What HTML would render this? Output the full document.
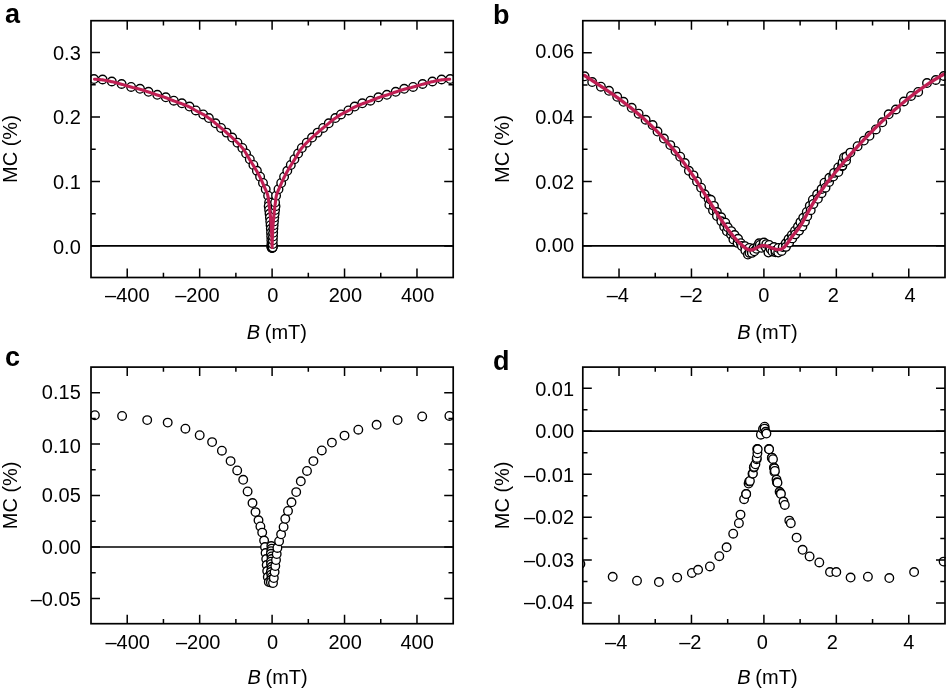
<!DOCTYPE html>
<html><head><meta charset="utf-8"><style>
html,body{margin:0;padding:0;background:#fff;}
svg{display:block;will-change:transform;}
text{font-family:"Liberation Sans",sans-serif;font-size:20px;fill:#000;}
.lab{font-weight:bold;font-size:27px;}
</style></head><body>
<svg width="946" height="689" viewBox="0 0 946 689">
<rect width="946" height="689" fill="#fff"/>
<text class="lab" x="5" y="23.4">a</text>
<text class="lab" x="493" y="23.9">b</text>
<text class="lab" x="5" y="365.5">c</text>
<text class="lab" x="493" y="370.2">d</text>
<defs><clipPath id="cpa"><rect x="90.2" y="19.9" width="363.8" height="258.4"/></clipPath><clipPath id="cpb"><rect x="582" y="19.9" width="363.8" height="258.4"/></clipPath><clipPath id="cpc"><rect x="90.2" y="366.3" width="363.8" height="258.2"/></clipPath><clipPath id="cpd"><rect x="582" y="366.3" width="363.8" height="258.2"/></clipPath></defs>
<path d="M91 245.9H453.2" stroke="#000" stroke-width="1.7"/>
<path d="M582.8 245.8H945" stroke="#000" stroke-width="1.7"/>
<path d="M91 547H453.2" stroke="#000" stroke-width="1.7"/>
<path d="M582.8 431.2H945" stroke="#000" stroke-width="1.7"/>
<g clip-path="url(#cpa)" fill="#fff" stroke="#000" stroke-width="1.35"><circle cx="94" cy="79.1" r="4.3"/><circle cx="102.6" cy="79.5" r="4.3"/><circle cx="111.8" cy="81.5" r="4.3"/><circle cx="121.6" cy="84" r="4.3"/><circle cx="131.1" cy="86.9" r="4.3"/><circle cx="140" cy="88.8" r="4.3"/><circle cx="148.5" cy="91.8" r="4.3"/><circle cx="157.3" cy="94.8" r="4.3"/><circle cx="165.8" cy="97.3" r="4.3"/><circle cx="173.8" cy="100.7" r="4.3"/><circle cx="181.9" cy="103.3" r="4.3"/><circle cx="189.5" cy="106.6" r="4.3"/><circle cx="195.8" cy="110.4" r="4.3"/><circle cx="203.2" cy="114.43" r="4.3"/><circle cx="208.86" cy="118.07" r="4.3"/><circle cx="215.43" cy="123.26" r="4.3"/><circle cx="221.04" cy="127.9" r="4.3"/><circle cx="226.58" cy="132.62" r="4.3"/><circle cx="232.15" cy="137.59" r="4.3"/><circle cx="237.47" cy="142.71" r="4.3"/><circle cx="242.36" cy="147.98" r="4.3"/><circle cx="246.07" cy="153.43" r="4.3"/><circle cx="249.78" cy="159.19" r="4.3"/><circle cx="253.4" cy="164.97" r="4.3"/><circle cx="256.9" cy="170.84" r="4.3"/><circle cx="260.1" cy="176.73" r="4.3"/><circle cx="262.99" cy="182.94" r="4.3"/><circle cx="265.7" cy="189.21" r="4.3"/><circle cx="268.13" cy="195.65" r="4.3"/><circle cx="269.11" cy="202.43" r="4.3"/><circle cx="268.68" cy="206.2" r="4.3"/><circle cx="269.12" cy="209.99" r="4.3"/><circle cx="269.54" cy="213.78" r="4.3"/><circle cx="269.92" cy="217.58" r="4.3"/><circle cx="270.26" cy="221.38" r="4.3"/><circle cx="270.57" cy="225.18" r="4.3"/><circle cx="270.83" cy="228.85" r="4.3"/><circle cx="271.03" cy="232.66" r="4.3"/><circle cx="271.19" cy="236.47" r="4.3"/><circle cx="271.34" cy="240.29" r="4.3"/><circle cx="271.44" cy="244.1" r="4.3"/><circle cx="271.5" cy="247.37" r="4.3"/><circle cx="271.3" cy="246.6" r="4.3"/><circle cx="271.8" cy="247.3" r="4.3"/><circle cx="272.1" cy="248" r="4.3"/><circle cx="272.1" cy="248" r="4.3"/><circle cx="272.4" cy="247.3" r="4.3"/><circle cx="272.9" cy="246.6" r="4.3"/><circle cx="272.7" cy="247.37" r="4.3"/><circle cx="272.76" cy="244.1" r="4.3"/><circle cx="272.86" cy="240.29" r="4.3"/><circle cx="273.01" cy="236.47" r="4.3"/><circle cx="273.17" cy="232.66" r="4.3"/><circle cx="273.37" cy="228.85" r="4.3"/><circle cx="273.63" cy="225.18" r="4.3"/><circle cx="273.94" cy="221.38" r="4.3"/><circle cx="274.28" cy="217.58" r="4.3"/><circle cx="274.66" cy="213.78" r="4.3"/><circle cx="275.08" cy="209.99" r="4.3"/><circle cx="275.52" cy="206.2" r="4.3"/><circle cx="275.09" cy="202.43" r="4.3"/><circle cx="276.07" cy="195.65" r="4.3"/><circle cx="278.5" cy="189.21" r="4.3"/><circle cx="281.21" cy="182.94" r="4.3"/><circle cx="284.1" cy="176.73" r="4.3"/><circle cx="287.3" cy="170.84" r="4.3"/><circle cx="290.8" cy="164.97" r="4.3"/><circle cx="294.42" cy="159.19" r="4.3"/><circle cx="298.13" cy="153.43" r="4.3"/><circle cx="301.84" cy="147.98" r="4.3"/><circle cx="306.73" cy="142.71" r="4.3"/><circle cx="312.05" cy="137.59" r="4.3"/><circle cx="317.62" cy="132.62" r="4.3"/><circle cx="323.16" cy="127.9" r="4.3"/><circle cx="328.77" cy="123.26" r="4.3"/><circle cx="335.34" cy="118.07" r="4.3"/><circle cx="341" cy="114.43" r="4.3"/><circle cx="348.4" cy="110.4" r="4.3"/><circle cx="354.7" cy="106.6" r="4.3"/><circle cx="362.3" cy="103.3" r="4.3"/><circle cx="370.4" cy="100.7" r="4.3"/><circle cx="378.4" cy="97.3" r="4.3"/><circle cx="386.9" cy="94.8" r="4.3"/><circle cx="395.7" cy="91.8" r="4.3"/><circle cx="404.2" cy="88.8" r="4.3"/><circle cx="413.1" cy="86.9" r="4.3"/><circle cx="422.6" cy="84" r="4.3"/><circle cx="432.4" cy="81.5" r="4.3"/><circle cx="441.6" cy="79.5" r="4.3"/><circle cx="450.2" cy="79.1" r="4.3"/></g>
<path d="M94.5 79.2L95.41 79.24L96.33 79.29L97.24 79.36L98.15 79.43L99.06 79.51L99.97 79.6L100.87 79.7L101.78 79.8L102.68 79.91L103.58 80.03L104.48 80.17L105.38 80.33L106.28 80.5L107.18 80.68L108.07 80.87L108.96 81.06L109.86 81.26L110.75 81.46L111.64 81.66L112.53 81.86L113.42 82.07L114.3 82.28L115.19 82.5L116.07 82.72L116.96 82.95L117.84 83.18L118.72 83.42L119.61 83.66L120.49 83.9L121.37 84.14L122.25 84.38L123.12 84.63L124 84.89L124.87 85.15L125.75 85.42L126.62 85.69L127.49 85.95L128.37 86.22L129.24 86.48L130.12 86.73L131 86.97L131.88 87.2L132.76 87.43L133.65 87.64L134.54 87.85L135.43 88.06L136.32 88.26L137.21 88.48L138.09 88.69L138.98 88.92L139.86 89.16L140.73 89.41L141.6 89.68L142.47 89.95L143.34 90.24L144.2 90.53L145.07 90.82L145.93 91.12L146.8 91.42L147.66 91.72L148.53 92.01L149.39 92.3L150.25 92.59L151.12 92.89L151.98 93.19L152.84 93.49L153.7 93.78L154.57 94.08L155.43 94.38L156.3 94.67L157.16 94.95L158.03 95.24L158.9 95.51L159.77 95.78L160.65 96.05L161.52 96.31L162.39 96.58L163.26 96.85L164.13 97.13L165 97.42L165.86 97.72L166.71 98.03L167.56 98.36L168.41 98.7L169.26 99.05L170.1 99.4L170.94 99.75L171.79 100.1L172.63 100.44L173.48 100.78L174.33 101.1L175.19 101.41L176.05 101.72L176.91 102.02L177.78 102.32L178.64 102.61L179.5 102.92L180.36 103.22L181.22 103.54L182.07 103.87L182.92 104.2L183.77 104.53L184.62 104.87L185.47 105.21L186.31 105.56L187.15 105.92L187.99 106.29L188.81 106.67L189.63 107.06L190.44 107.48L191.24 107.92L192.03 108.38L192.81 108.85L193.59 109.32L194.38 109.79L195.17 110.25L195.97 110.69L196.77 111.12L197.59 111.54L198.4 111.95L199.22 112.35L200.04 112.76L200.86 113.17L201.67 113.59L202.47 114.02L203.27 114.46L204.05 114.92L204.83 115.4L205.6 115.88L206.37 116.38L207.14 116.88L207.89 117.4L208.64 117.92L209.38 118.44L210.12 118.98L210.85 119.53L211.57 120.09L212.28 120.65L212.99 121.23L213.7 121.81L214.4 122.39L215.1 122.98L215.8 123.57L216.5 124.15L217.2 124.74L217.91 125.32L218.61 125.9L219.32 126.48L220.02 127.06L220.72 127.64L221.43 128.23L222.13 128.81L222.83 129.4L223.52 129.99L224.22 130.58L224.91 131.17L225.6 131.77L226.29 132.37L226.98 132.97L227.66 133.57L228.35 134.17L229.04 134.77L229.72 135.38L230.4 135.99L231.08 136.6L231.75 137.22L232.42 137.84L233.09 138.46L233.75 139.09L234.41 139.72L235.06 140.35L235.71 140.99L236.37 141.63L237.02 142.27L237.68 142.92L238.33 143.57L238.98 144.22L239.61 144.88L240.24 145.55L240.86 146.22L241.46 146.91L242.04 147.6L242.61 148.3L243.16 149.01L243.69 149.74L244.21 150.48L244.71 151.24L245.2 152L245.68 152.78L246.15 153.56L246.62 154.35L247.08 155.15L247.54 155.94L248 156.74L248.45 157.53L248.92 158.33L249.38 159.12L249.85 159.9L250.33 160.68L250.82 161.45L251.31 162.22L251.8 162.99L252.28 163.77L252.77 164.54L253.26 165.31L253.74 166.08L254.22 166.86L254.69 167.64L255.16 168.43L255.62 169.21L256.07 170L256.53 170.79L256.98 171.59L257.43 172.38L257.88 173.18L258.32 173.98L258.75 174.79L259.18 175.59L259.6 176.4L260.01 177.21L260.41 178.03L260.81 178.85L261.19 179.68L261.58 180.51L261.95 181.34L262.32 182.17L262.69 183.01L263.05 183.85L263.41 184.69L263.77 185.53L264.12 186.37L264.47 187.21L264.84 188.05L265.22 188.89L265.61 189.73L265.99 190.57L266.36 191.42L266.72 192.26L267.05 193.12L267.35 193.97L267.62 194.84L267.84 195.71L268.01 196.58L268.17 197.47L268.3 198.37L268.43 199.28L268.54 200.19L268.65 201.1L268.76 202.01L268.87 202.92L268.98 203.83L269.1 204.74L269.21 205.64L269.33 206.55L269.44 207.45L269.54 208.36L269.65 209.27L269.75 210.17L269.85 211.08L269.95 211.99L270.05 212.9L270.15 213.8L270.24 214.71L270.34 215.62L270.43 216.53L270.51 217.43L270.6 218.34L270.68 219.25L270.76 220.16L270.83 221.07L270.91 221.98L270.99 222.89L271.06 223.8L271.13 224.71L271.2 225.62L271.27 226.53L271.34 227.44L271.4 228.35L271.45 229.26L271.51 230.17L271.56 231.08L271.6 231.99L271.64 232.91L271.68 233.82L271.72 234.73L271.76 235.64L271.8 236.55L271.83 237.46L271.87 238.38L271.9 239.29L271.93 240.2L271.96 241.11L271.99 242.02L272.01 242.94L272.04 243.85L272.06 244.76L272.07 245.67L272.09 246.59L272.1 247.5L272.1 247.5L272.11 246.59L272.13 245.67L272.14 244.76L272.16 243.85L272.19 242.94L272.21 242.02L272.24 241.11L272.27 240.2L272.3 239.29L272.33 238.38L272.37 237.46L272.4 236.55L272.44 235.64L272.48 234.73L272.52 233.82L272.56 232.91L272.6 231.99L272.64 231.08L272.69 230.17L272.75 229.26L272.8 228.35L272.86 227.44L272.93 226.53L273 225.62L273.07 224.71L273.14 223.8L273.21 222.89L273.29 221.98L273.37 221.07L273.44 220.16L273.52 219.25L273.6 218.34L273.69 217.43L273.77 216.53L273.86 215.62L273.96 214.71L274.05 213.8L274.15 212.9L274.25 211.99L274.35 211.08L274.45 210.17L274.55 209.27L274.66 208.36L274.76 207.45L274.87 206.55L274.99 205.64L275.1 204.74L275.22 203.83L275.33 202.92L275.44 202.01L275.55 201.1L275.66 200.19L275.77 199.28L275.9 198.37L276.03 197.47L276.19 196.58L276.36 195.71L276.58 194.84L276.85 193.97L277.15 193.12L277.48 192.26L277.84 191.42L278.21 190.57L278.59 189.73L278.98 188.89L279.36 188.05L279.73 187.21L280.08 186.37L280.43 185.53L280.79 184.69L281.15 183.85L281.51 183.01L281.88 182.17L282.25 181.34L282.62 180.51L283.01 179.68L283.39 178.85L283.79 178.03L284.19 177.21L284.6 176.4L285.02 175.59L285.45 174.79L285.88 173.98L286.32 173.18L286.77 172.38L287.22 171.59L287.67 170.79L288.13 170L288.58 169.21L289.04 168.43L289.51 167.64L289.98 166.86L290.46 166.08L290.94 165.31L291.43 164.54L291.92 163.77L292.4 162.99L292.89 162.22L293.38 161.45L293.87 160.68L294.35 159.9L294.82 159.12L295.28 158.33L295.75 157.53L296.2 156.74L296.66 155.94L297.12 155.15L297.58 154.35L298.05 153.56L298.52 152.78L299 152L299.49 151.24L299.99 150.48L300.51 149.74L301.04 149.01L301.59 148.3L302.16 147.6L302.74 146.91L303.34 146.22L303.96 145.55L304.59 144.88L305.22 144.22L305.87 143.57L306.52 142.92L307.18 142.27L307.83 141.63L308.49 140.99L309.14 140.35L309.79 139.72L310.45 139.09L311.11 138.46L311.78 137.84L312.45 137.22L313.12 136.6L313.8 135.99L314.48 135.38L315.16 134.77L315.85 134.17L316.54 133.57L317.22 132.97L317.91 132.37L318.6 131.77L319.29 131.17L319.98 130.58L320.68 129.99L321.37 129.4L322.07 128.81L322.77 128.23L323.48 127.64L324.18 127.06L324.88 126.48L325.59 125.9L326.29 125.32L327 124.74L327.7 124.15L328.4 123.57L329.1 122.98L329.8 122.39L330.5 121.81L331.21 121.23L331.92 120.65L332.63 120.09L333.35 119.53L334.08 118.98L334.82 118.44L335.56 117.92L336.31 117.4L337.06 116.88L337.83 116.38L338.6 115.88L339.37 115.4L340.15 114.92L340.93 114.46L341.73 114.02L342.53 113.59L343.34 113.17L344.16 112.76L344.98 112.35L345.8 111.95L346.61 111.54L347.43 111.12L348.23 110.69L349.03 110.25L349.82 109.79L350.61 109.32L351.39 108.85L352.17 108.38L352.96 107.92L353.76 107.48L354.57 107.06L355.39 106.67L356.21 106.29L357.05 105.92L357.89 105.56L358.73 105.21L359.58 104.87L360.43 104.53L361.28 104.2L362.13 103.87L362.98 103.54L363.84 103.22L364.7 102.92L365.56 102.61L366.42 102.32L367.29 102.02L368.15 101.72L369.01 101.41L369.87 101.1L370.72 100.78L371.57 100.44L372.41 100.1L373.26 99.75L374.1 99.4L374.94 99.05L375.79 98.7L376.64 98.36L377.49 98.03L378.34 97.72L379.2 97.42L380.07 97.13L380.94 96.85L381.81 96.58L382.68 96.31L383.55 96.05L384.43 95.78L385.3 95.51L386.17 95.24L387.04 94.95L387.9 94.67L388.77 94.38L389.63 94.08L390.5 93.78L391.36 93.49L392.22 93.19L393.08 92.89L393.95 92.59L394.81 92.3L395.67 92.01L396.54 91.72L397.4 91.42L398.27 91.12L399.13 90.82L400 90.53L400.86 90.24L401.73 89.95L402.6 89.68L403.47 89.41L404.34 89.16L405.22 88.92L406.11 88.69L406.99 88.48L407.88 88.26L408.77 88.06L409.66 87.85L410.55 87.64L411.44 87.43L412.32 87.2L413.2 86.97L414.08 86.73L414.96 86.48L415.83 86.22L416.71 85.95L417.58 85.69L418.45 85.42L419.33 85.15L420.2 84.89L421.08 84.63L421.95 84.38L422.83 84.14L423.71 83.9L424.59 83.66L425.48 83.42L426.36 83.18L427.24 82.95L428.13 82.72L429.01 82.5L429.9 82.28L430.78 82.07L431.67 81.86L432.56 81.66L433.45 81.46L434.34 81.26L435.24 81.06L436.13 80.87L437.02 80.68L437.92 80.5L438.82 80.33L439.72 80.17L440.62 80.03L441.52 79.91L442.42 79.8L443.33 79.7L444.23 79.6L445.14 79.51L446.05 79.43L446.96 79.36L447.87 79.29L448.79 79.24L449.7 79.2" fill="none" stroke="#bf1f53" stroke-width="3.1" stroke-linejoin="round" stroke-linecap="round"/>
<g clip-path="url(#cpb)" fill="#fff" stroke="#000" stroke-width="1.35"><circle cx="584.6" cy="76.3" r="4.3"/><circle cx="592.2" cy="82.1" r="4.3"/><circle cx="600.9" cy="86.7" r="4.3"/><circle cx="609" cy="90.8" r="4.3"/><circle cx="617.2" cy="96.77" r="4.3"/><circle cx="623.5" cy="101.82" r="4.3"/><circle cx="631.7" cy="107.78" r="4.3"/><circle cx="638.6" cy="113.72" r="4.3"/><circle cx="645.6" cy="119.75" r="4.3"/><circle cx="652.6" cy="125.01" r="4.3"/><circle cx="657.5" cy="131.54" r="4.3"/><circle cx="663.9" cy="138.59" r="4.3"/><circle cx="670.3" cy="145.1" r="4.3"/><circle cx="675.5" cy="150.97" r="4.3"/><circle cx="680.2" cy="156.68" r="4.3"/><circle cx="684.8" cy="163.06" r="4.3"/><circle cx="688.9" cy="170.81" r="4.3"/><circle cx="693.5" cy="175.36" r="4.3"/><circle cx="697" cy="181.46" r="4.3"/><circle cx="701.1" cy="187.66" r="4.3"/><circle cx="704.6" cy="194.33" r="4.3"/><circle cx="708.6" cy="198.89" r="4.3"/><circle cx="709.32" cy="204.78" r="4.3"/><circle cx="710.85" cy="199.81" r="4.3"/><circle cx="713" cy="210.46" r="4.3"/><circle cx="713.96" cy="205.87" r="4.3"/><circle cx="716.87" cy="212.07" r="4.3"/><circle cx="716.96" cy="216.07" r="4.3"/><circle cx="721.19" cy="217.31" r="4.3"/><circle cx="721.33" cy="221.31" r="4.3"/><circle cx="724.19" cy="226.64" r="4.3"/><circle cx="725.32" cy="222.73" r="4.3"/><circle cx="726.9" cy="231.18" r="4.3"/><circle cx="727.74" cy="227.28" r="4.3"/><circle cx="731.03" cy="234.57" r="4.3"/><circle cx="731.23" cy="231.12" r="4.3"/><circle cx="733.4" cy="239.49" r="4.3"/><circle cx="734.57" cy="235.03" r="4.3"/><circle cx="737.55" cy="242.87" r="4.3"/><circle cx="738.05" cy="238.8" r="4.3"/><circle cx="740.83" cy="243.22" r="4.3"/><circle cx="741.86" cy="245.97" r="4.3"/><circle cx="745.07" cy="246.17" r="4.3"/><circle cx="745.34" cy="250.45" r="4.3"/><circle cx="747.9" cy="254.5" r="4.3"/><circle cx="749.31" cy="247.98" r="4.3"/><circle cx="749.5" cy="252.9" r="4.3"/><circle cx="751.52" cy="251.43" r="4.3"/><circle cx="751.9" cy="252.9" r="4.3"/><circle cx="753.54" cy="248.54" r="4.3"/><circle cx="754.3" cy="251.3" r="4.3"/><circle cx="756.53" cy="248.8" r="4.3"/><circle cx="757.9" cy="245.66" r="4.3"/><circle cx="759.1" cy="243.3" r="4.3"/><circle cx="759.9" cy="244.9" r="4.3"/><circle cx="761.35" cy="247.75" r="4.3"/><circle cx="763.47" cy="244.5" r="4.3"/><circle cx="763.9" cy="242.5" r="4.3"/><circle cx="765.76" cy="247.23" r="4.3"/><circle cx="766.3" cy="244.1" r="4.3"/><circle cx="768.4" cy="252.5" r="4.3"/><circle cx="769.19" cy="244.9" r="4.3"/><circle cx="770.45" cy="248.89" r="4.3"/><circle cx="772.4" cy="251.4" r="4.3"/><circle cx="773.93" cy="247.04" r="4.3"/><circle cx="775.5" cy="252.2" r="4.3"/><circle cx="775.55" cy="250.62" r="4.3"/><circle cx="778.2" cy="252.5" r="4.3"/><circle cx="778.42" cy="247.96" r="4.3"/><circle cx="781.67" cy="250.94" r="4.3"/><circle cx="782.71" cy="247.1" r="4.3"/><circle cx="785.81" cy="243.34" r="4.3"/><circle cx="785.99" cy="246.87" r="4.3"/><circle cx="788.6" cy="239.05" r="4.3"/><circle cx="789.21" cy="242.62" r="4.3"/><circle cx="791.88" cy="234.91" r="4.3"/><circle cx="792.25" cy="238.38" r="4.3"/><circle cx="795.03" cy="230.66" r="4.3"/><circle cx="795.31" cy="234.37" r="4.3"/><circle cx="797.98" cy="226.56" r="4.3"/><circle cx="799.14" cy="230.61" r="4.3"/><circle cx="800.43" cy="222.14" r="4.3"/><circle cx="802.42" cy="226.45" r="4.3"/><circle cx="803.24" cy="217.77" r="4.3"/><circle cx="804.93" cy="221.65" r="4.3"/><circle cx="806.77" cy="211.92" r="4.3"/><circle cx="807.28" cy="216.15" r="4.3"/><circle cx="809.8" cy="205.85" r="4.3"/><circle cx="810.72" cy="210.22" r="4.3"/><circle cx="812.88" cy="199.67" r="4.3"/><circle cx="813.4" cy="203.94" r="4.3"/><circle cx="817.14" cy="194.3" r="4.3"/><circle cx="817.89" cy="198.82" r="4.3"/><circle cx="821.58" cy="193.22" r="4.3"/><circle cx="821.61" cy="189.03" r="4.3"/><circle cx="824.5" cy="182.67" r="4.3"/><circle cx="825.51" cy="187.68" r="4.3"/><circle cx="829.13" cy="181.91" r="4.3"/><circle cx="829.37" cy="177.81" r="4.3"/><circle cx="833.24" cy="176.53" r="4.3"/><circle cx="834.1" cy="172.86" r="4.3"/><circle cx="838.27" cy="167.48" r="4.3"/><circle cx="838.38" cy="172" r="4.3"/><circle cx="842.14" cy="166.27" r="4.3"/><circle cx="842.4" cy="165.4" r="4.3"/><circle cx="842.62" cy="162.26" r="4.3"/><circle cx="844" cy="157.4" r="4.3"/><circle cx="846.07" cy="160.78" r="4.3"/><circle cx="846.39" cy="156.55" r="4.3"/><circle cx="850.4" cy="152.6" r="4.3"/><circle cx="857.6" cy="146.2" r="4.3"/><circle cx="863.9" cy="140.6" r="4.3"/><circle cx="869.5" cy="135.8" r="4.3"/><circle cx="875.9" cy="129.4" r="4.3"/><circle cx="882.3" cy="122.3" r="4.3"/><circle cx="888.7" cy="114.3" r="4.3"/><circle cx="895.9" cy="109.5" r="4.3"/><circle cx="903.9" cy="101.5" r="4.3"/><circle cx="911" cy="95.9" r="4.3"/><circle cx="918.2" cy="91.9" r="4.3"/><circle cx="927" cy="83.1" r="4.3"/><circle cx="935.8" cy="80" r="4.3"/><circle cx="943.8" cy="76" r="4.3"/></g>
<path d="M584.5 75.5L585.1 75.89L585.7 76.28L586.3 76.67L586.9 77.06L587.5 77.45L588.1 77.84L588.7 78.23L589.29 78.62L589.89 79.01L590.49 79.4L591.09 79.79L591.69 80.18L592.29 80.57L592.89 80.96L593.49 81.35L594.09 81.75L594.69 82.14L595.29 82.53L595.89 82.93L596.49 83.32L597.09 83.72L597.69 84.11L598.28 84.51L598.88 84.9L599.48 85.3L600.08 85.7L600.68 86.1L601.28 86.5L601.88 86.9L602.48 87.3L603.08 87.7L603.68 88.1L604.28 88.51L604.88 88.91L605.48 89.32L606.08 89.73L606.68 90.13L607.27 90.54L607.87 90.95L608.47 91.37L609.07 91.78L609.67 92.19L610.27 92.61L610.87 93.02L611.47 93.44L612.07 93.86L612.67 94.28L613.27 94.7L613.87 95.12L614.47 95.55L615.07 95.98L615.67 96.4L616.26 96.83L616.86 97.26L617.46 97.69L618.06 98.13L618.66 98.56L619.26 99L619.86 99.44L620.46 99.88L621.06 100.32L621.66 100.77L622.26 101.22L622.86 101.66L623.46 102.11L624.06 102.57L624.66 103.02L625.25 103.48L625.85 103.93L626.45 104.39L627.05 104.86L627.65 105.32L628.25 105.79L628.85 106.26L629.45 106.73L630.05 107.2L630.65 107.68L631.25 108.15L631.85 108.64L632.45 109.12L633.05 109.6L633.65 110.09L634.24 110.58L634.84 111.07L635.44 111.57L636.04 112.07L636.64 112.57L637.24 113.07L637.84 113.57L638.44 114.08L639.04 114.59L639.64 115.11L640.24 115.62L640.84 116.14L641.44 116.67L642.04 117.19L642.64 117.72L643.23 118.25L643.83 118.78L644.43 119.32L645.03 119.86L645.63 120.4L646.23 120.95L646.83 121.5L647.43 122.05L648.03 122.61L648.63 123.17L649.23 123.73L649.83 124.29L650.43 124.86L651.03 125.43L651.63 126.01L652.22 126.59L652.82 127.17L653.42 127.76L654.02 128.35L654.62 128.94L655.22 129.54L655.82 130.14L656.42 130.74L657.02 131.35L657.62 131.96L658.22 132.57L658.82 133.19L659.42 133.81L660.02 134.44L660.62 135.07L661.21 135.7L661.81 136.34L662.41 136.98L663.01 137.63L663.61 138.28L664.21 138.93L664.81 139.59L665.41 140.25L666.01 140.92L666.61 141.59L667.21 142.26L667.81 142.94L668.41 143.62L669.01 144.31L669.61 145L670.2 145.69L670.8 146.39L671.4 147.1L672 147.81L672.6 148.52L673.2 149.24L673.8 149.96L674.4 150.69L675 151.42L675.6 152.15L676.2 152.9L676.8 153.64L677.4 154.39L678 155.15L678.6 155.9L679.19 156.67L679.79 157.44L680.39 158.21L680.99 158.99L681.59 159.77L682.19 160.56L682.79 161.36L683.39 162.16L683.99 162.96L684.59 163.77L685.19 164.58L685.79 165.4L686.39 166.23L686.99 167.06L687.59 167.89L688.18 168.73L688.78 169.58L689.38 170.43L689.98 171.28L690.58 172.14L691.18 173.01L691.78 173.88L692.38 174.76L692.98 175.65L693.58 176.53L694.18 177.43L694.78 178.33L695.38 179.23L695.98 180.15L696.58 181.06L697.17 181.98L697.77 182.91L698.37 183.84L698.97 184.77L699.57 185.71L700.17 186.65L700.77 187.6L701.37 188.55L701.97 189.5L702.57 190.45L703.17 191.41L703.77 192.37L704.37 193.33L704.97 194.29L705.57 195.25L706.16 196.21L706.76 197.17L707.36 198.14L707.96 199.1L708.56 200.06L709.16 201.03L709.76 201.99L710.36 202.95L710.96 203.91L711.56 204.87L712.16 205.83L712.76 206.78L713.36 207.73L713.96 208.68L714.56 209.63L715.15 210.57L715.75 211.51L716.35 212.45L716.95 213.38L717.55 214.31L718.15 215.23L718.75 216.15L719.35 217.06L719.95 217.97L720.55 218.87L721.15 219.77L721.75 220.65L722.35 221.54L722.95 222.41L723.55 223.28L724.14 224.15L724.74 225L725.34 225.85L725.94 226.69L726.54 227.52L727.14 228.34L727.74 229.15L728.34 229.96L728.94 230.75L729.54 231.53L730.14 232.31L730.74 233.07L731.34 233.83L731.94 234.57L732.54 235.3L733.13 236.02L733.73 236.73L734.33 237.43L734.93 238.12L735.53 238.79L736.13 239.45L736.73 240.1L737.33 240.74L737.93 241.36L738.53 241.97L739.13 242.57L739.73 243.15L740.33 243.72L740.93 244.28L741.53 244.82L742.12 245.35L742.72 245.86L743.32 246.36L743.92 246.84L744.52 247.3L745.12 247.75L745.72 248.17L746.32 248.56L746.92 248.91L747.52 249.23L748.12 249.5L748.72 249.72L749.32 249.88L749.92 249.98L750.52 250.02L751.11 249.99L751.71 249.91L752.31 249.77L752.91 249.58L753.51 249.36L754.11 249.1L754.71 248.82L755.31 248.52L755.91 248.21L756.51 247.89L757.11 247.58L757.71 247.27L758.31 246.98L758.91 246.71L759.51 246.46L760.1 246.25L760.7 246.06L761.3 245.91L761.9 245.79L762.5 245.7L763.1 245.65L763.7 245.63L764.3 245.65L764.9 245.71L765.5 245.8L766.1 245.93L766.7 246.07L767.3 246.24L767.9 246.43L768.49 246.64L769.09 246.86L769.69 247.09L770.29 247.33L770.89 247.57L771.49 247.82L772.09 248.06L772.69 248.29L773.29 248.51L773.89 248.72L774.49 248.92L775.09 249.1L775.69 249.25L776.29 249.38L776.89 249.48L777.48 249.54L778.08 249.58L778.68 249.57L779.28 249.52L779.88 249.43L780.48 249.28L781.08 249.09L781.68 248.84L782.28 248.53L782.88 248.16L783.48 247.73L784.08 247.23L784.68 246.66L785.28 246.02L785.88 245.33L786.47 244.59L787.07 243.8L787.67 242.98L788.27 242.14L788.87 241.27L789.47 240.39L790.07 239.5L790.67 238.62L791.27 237.74L791.87 236.88L792.47 236.04L793.07 235.24L793.67 234.47L794.27 233.75L794.87 233.07L795.46 232.41L796.06 231.71L796.66 230.97L797.26 230.19L797.86 229.38L798.46 228.55L799.06 227.71L799.66 226.85L800.26 225.98L800.86 225.09L801.46 224.15L802.06 223.15L802.66 222.09L803.26 221L803.86 219.88L804.45 218.74L805.05 217.61L805.65 216.48L806.25 215.36L806.85 214.25L807.45 213.15L808.05 212.06L808.65 210.98L809.25 209.91L809.85 208.85L810.45 207.79L811.05 206.75L811.65 205.72L812.25 204.7L812.85 203.69L813.44 202.69L814.04 201.7L814.64 200.72L815.24 199.76L815.84 198.8L816.44 197.86L817.04 196.93L817.64 196.01L818.24 195.1L818.84 194.21L819.44 193.32L820.04 192.44L820.64 191.58L821.24 190.72L821.84 189.87L822.43 189.03L823.03 188.2L823.63 187.38L824.23 186.56L824.83 185.75L825.43 184.95L826.03 184.15L826.63 183.36L827.23 182.58L827.83 181.8L828.43 181.03L829.03 180.26L829.63 179.5L830.23 178.74L830.83 177.99L831.42 177.23L832.02 176.48L832.62 175.74L833.22 174.99L833.82 174.25L834.42 173.51L835.02 172.77L835.62 172.04L836.22 171.3L836.82 170.57L837.42 169.84L838.02 169.11L838.62 168.39L839.22 167.66L839.82 166.94L840.41 166.22L841.01 165.5L841.61 164.79L842.21 164.07L842.81 163.36L843.41 162.65L844.01 161.95L844.61 161.24L845.21 160.54L845.81 159.84L846.41 159.14L847.01 158.44L847.61 157.75L848.21 157.06L848.81 156.36L849.4 155.68L850 154.99L850.6 154.31L851.2 153.62L851.8 152.94L852.4 152.27L853 151.59L853.6 150.92L854.2 150.24L854.8 149.57L855.4 148.91L856 148.24L856.6 147.58L857.2 146.92L857.8 146.26L858.39 145.6L858.99 144.95L859.59 144.29L860.19 143.64L860.79 143L861.39 142.35L861.99 141.7L862.59 141.06L863.19 140.42L863.79 139.78L864.39 139.15L864.99 138.52L865.59 137.88L866.19 137.25L866.79 136.63L867.38 136L867.98 135.38L868.58 134.76L869.18 134.14L869.78 133.52L870.38 132.91L870.98 132.3L871.58 131.69L872.18 131.08L872.78 130.47L873.38 129.87L873.98 129.27L874.58 128.67L875.18 128.07L875.78 127.47L876.37 126.88L876.97 126.29L877.57 125.7L878.17 125.12L878.77 124.53L879.37 123.95L879.97 123.37L880.57 122.79L881.17 122.22L881.77 121.64L882.37 121.07L882.97 120.5L883.57 119.93L884.17 119.37L884.77 118.81L885.36 118.25L885.96 117.69L886.56 117.13L887.16 116.58L887.76 116.03L888.36 115.48L888.96 114.93L889.56 114.38L890.16 113.84L890.76 113.3L891.36 112.76L891.96 112.22L892.56 111.69L893.16 111.16L893.76 110.63L894.35 110.1L894.95 109.57L895.55 109.05L896.15 108.53L896.75 108.01L897.35 107.49L897.95 106.98L898.55 106.47L899.15 105.96L899.75 105.45L900.35 104.94L900.95 104.44L901.55 103.94L902.15 103.44L902.75 102.94L903.34 102.45L903.94 101.95L904.54 101.46L905.14 100.97L905.74 100.49L906.34 100L906.94 99.52L907.54 99.04L908.14 98.57L908.74 98.09L909.34 97.62L909.94 97.15L910.54 96.68L911.14 96.21L911.74 95.75L912.33 95.29L912.93 94.83L913.53 94.37L914.13 93.92L914.73 93.47L915.33 93.02L915.93 92.57L916.53 92.12L917.13 91.68L917.73 91.24L918.33 90.8L918.93 90.36L919.53 89.93L920.13 89.49L920.73 89.06L921.32 88.64L921.92 88.21L922.52 87.79L923.12 87.37L923.72 86.95L924.32 86.53L924.92 86.12L925.52 85.7L926.12 85.29L926.72 84.89L927.32 84.48L927.92 84.08L928.52 83.68L929.12 83.28L929.72 82.88L930.31 82.49L930.91 82.1L931.51 81.71L932.11 81.32L932.71 80.94L933.31 80.55L933.91 80.17L934.51 79.8L935.11 79.42L935.71 79.05L936.31 78.68L936.91 78.31L937.51 77.94L938.11 77.58L938.71 77.21L939.3 76.85L939.9 76.5L940.5 76.14L941.1 75.79L941.7 75.44L942.3 75.09L942.9 74.74L943.5 74.4" fill="none" stroke="#bf1f53" stroke-width="3.4" stroke-linejoin="round" stroke-linecap="round"/>
<g clip-path="url(#cpc)" fill="#fff" stroke="#000" stroke-width="1.35"><circle cx="94.9" cy="415.2" r="4.3"/><circle cx="122.1" cy="415.9" r="4.3"/><circle cx="147.2" cy="420.1" r="4.3"/><circle cx="167.7" cy="422.6" r="4.3"/><circle cx="185.4" cy="428.7" r="4.3"/><circle cx="199.7" cy="435.2" r="4.3"/><circle cx="212.1" cy="442.1" r="4.3"/><circle cx="221.9" cy="450.7" r="4.3"/><circle cx="230.6" cy="461.1" r="4.3"/><circle cx="237.2" cy="470.4" r="4.3"/><circle cx="243.2" cy="479.8" r="4.3"/><circle cx="247.6" cy="491.4" r="4.3"/><circle cx="252.5" cy="503" r="4.3"/><circle cx="255.5" cy="512.1" r="4.3"/><circle cx="258.5" cy="520.3" r="4.3"/><circle cx="260.4" cy="526.4" r="4.3"/><circle cx="262.2" cy="532.6" r="4.3"/><circle cx="264.1" cy="540.5" r="4.3"/><circle cx="265" cy="547" r="4.3"/><circle cx="265.6" cy="553" r="4.3"/><circle cx="266.2" cy="559" r="4.3"/><circle cx="266.7" cy="565" r="4.3"/><circle cx="267.2" cy="571" r="4.3"/><circle cx="267.8" cy="577" r="4.3"/><circle cx="268.8" cy="582" r="4.3"/><circle cx="271.3" cy="546" r="4.3"/><circle cx="271.7" cy="548.6" r="4.3"/><circle cx="271.2" cy="551.2" r="4.3"/><circle cx="270.93" cy="553.8" r="4.3"/><circle cx="271.5" cy="556.4" r="4.3"/><circle cx="271.62" cy="559" r="4.3"/><circle cx="271.02" cy="561.6" r="4.3"/><circle cx="271.05" cy="564.2" r="4.3"/><circle cx="271.64" cy="566.8" r="4.3"/><circle cx="271.46" cy="569.4" r="4.3"/><circle cx="270.92" cy="572" r="4.3"/><circle cx="271.24" cy="574.6" r="4.3"/><circle cx="271.7" cy="577.2" r="4.3"/><circle cx="271.26" cy="579.8" r="4.3"/><circle cx="270.91" cy="582.4" r="4.3"/><circle cx="273" cy="583" r="4.3"/><circle cx="273.8" cy="578" r="4.3"/><circle cx="274.6" cy="572" r="4.3"/><circle cx="275.3" cy="566" r="4.3"/><circle cx="276" cy="560" r="4.3"/><circle cx="276.7" cy="554.1" r="4.3"/><circle cx="277.4" cy="547.9" r="4.3"/><circle cx="279.1" cy="541.2" r="4.3"/><circle cx="281.1" cy="534.3" r="4.3"/><circle cx="283.6" cy="526.9" r="4.3"/><circle cx="285.3" cy="518.8" r="4.3"/><circle cx="288" cy="510.9" r="4.3"/><circle cx="291.5" cy="502.3" r="4.3"/><circle cx="296.2" cy="492.1" r="4.3"/><circle cx="300.8" cy="481.3" r="4.3"/><circle cx="307" cy="470.9" r="4.3"/><circle cx="313.4" cy="461.1" r="4.3"/><circle cx="321.8" cy="450.4" r="4.3"/><circle cx="331.9" cy="442.6" r="4.3"/><circle cx="344.5" cy="435.6" r="4.3"/><circle cx="358.3" cy="429.7" r="4.3"/><circle cx="376.6" cy="424.8" r="4.3"/><circle cx="397.6" cy="420.1" r="4.3"/><circle cx="422.2" cy="416.4" r="4.3"/><circle cx="449.4" cy="415.9" r="4.3"/></g>
<g clip-path="url(#cpd)" fill="#fff" stroke="#000" stroke-width="1.35"><circle cx="580.4" cy="564" r="4.3"/><circle cx="612.7" cy="576.8" r="4.3"/><circle cx="637" cy="580.7" r="4.3"/><circle cx="658.9" cy="582" r="4.3"/><circle cx="677.2" cy="577.6" r="4.3"/><circle cx="691.9" cy="572.9" r="4.3"/><circle cx="698.1" cy="569.8" r="4.3"/><circle cx="709.9" cy="566.4" r="4.3"/><circle cx="719.3" cy="556.2" r="4.3"/><circle cx="726.6" cy="547.3" r="4.3"/><circle cx="733.2" cy="533.7" r="4.3"/><circle cx="738.9" cy="523.2" r="4.3"/><circle cx="740.5" cy="514.6" r="4.3"/><circle cx="744.1" cy="499.2" r="4.3"/><circle cx="746.1" cy="493.9" r="4.3"/><circle cx="746.2" cy="494" r="4.3"/><circle cx="748.6" cy="483.5" r="4.3"/><circle cx="749.2" cy="481.6" r="4.3"/><circle cx="749.9" cy="480.9" r="4.3"/><circle cx="752.5" cy="473.8" r="4.3"/><circle cx="752.9" cy="473.6" r="4.3"/><circle cx="753.8" cy="467.6" r="4.3"/><circle cx="754.1" cy="466.8" r="4.3"/><circle cx="755.4" cy="464.3" r="4.3"/><circle cx="756.7" cy="459.2" r="4.3"/><circle cx="756.8" cy="457.9" r="4.3"/><circle cx="757.2" cy="448.9" r="4.3"/><circle cx="757.4" cy="453.3" r="4.3"/><circle cx="757.7" cy="449.3" r="4.3"/><circle cx="760.9" cy="434.7" r="4.3"/><circle cx="763" cy="429.1" r="4.3"/><circle cx="764.6" cy="426.7" r="4.3"/><circle cx="764.6" cy="428.6" r="4.3"/><circle cx="765.6" cy="431.8" r="4.3"/><circle cx="766.4" cy="433.5" r="4.3"/><circle cx="768.9" cy="448.9" r="4.3"/><circle cx="769.1" cy="449.3" r="4.3"/><circle cx="771.8" cy="457.9" r="4.3"/><circle cx="772" cy="457.6" r="4.3"/><circle cx="773" cy="459.2" r="4.3"/><circle cx="773.9" cy="467.4" r="4.3"/><circle cx="774.4" cy="468.3" r="4.3"/><circle cx="774.5" cy="472" r="4.3"/><circle cx="774.9" cy="470.9" r="4.3"/><circle cx="776.5" cy="479.6" r="4.3"/><circle cx="776.9" cy="482.2" r="4.3"/><circle cx="777.5" cy="482.7" r="4.3"/><circle cx="779.6" cy="491.8" r="4.3"/><circle cx="780.6" cy="493.3" r="4.3"/><circle cx="780.9" cy="493.9" r="4.3"/><circle cx="783.5" cy="501.5" r="4.3"/><circle cx="784.8" cy="504.9" r="4.3"/><circle cx="789.3" cy="520.6" r="4.3"/><circle cx="790.8" cy="523.2" r="4.3"/><circle cx="796.6" cy="537.6" r="4.3"/><circle cx="802.6" cy="549.8" r="4.3"/><circle cx="809.6" cy="556.4" r="4.3"/><circle cx="819.3" cy="562.4" r="4.3"/><circle cx="830" cy="572" r="4.3"/><circle cx="836.3" cy="572" r="4.3"/><circle cx="850.6" cy="577.5" r="4.3"/><circle cx="867.9" cy="576.7" r="4.3"/><circle cx="889.3" cy="578" r="4.3"/><circle cx="914.1" cy="572" r="4.3"/><circle cx="943.6" cy="561.6" r="4.3"/></g>
<path d="M127.22 277.5V268.5 M127.22 20.7V29.7 M199.66 277.5V268.5 M199.66 20.7V29.7 M272.1 277.5V268.5 M272.1 20.7V29.7 M344.54 277.5V268.5 M344.54 20.7V29.7 M416.98 277.5V268.5 M416.98 20.7V29.7 M163.44 277.5V272.8 M163.44 20.7V25.4 M235.88 277.5V272.8 M235.88 20.7V25.4 M308.32 277.5V272.8 M308.32 20.7V25.4 M380.76 277.5V272.8 M380.76 20.7V25.4 M91 245.9H100 M453.2 245.9H444.2 M91 181.4H100 M453.2 181.4H444.2 M91 116.9H100 M453.2 116.9H444.2 M91 52.4H100 M453.2 52.4H444.2 M91 213.65H95.7 M453.2 213.65H448.5 M91 149.15H95.7 M453.2 149.15H448.5 M91 84.65H95.7 M453.2 84.65H448.5" stroke="#000" stroke-width="1.5" fill="none"/>
<rect x="91" y="20.7" width="362.2" height="256.8" fill="none" stroke="#000" stroke-width="1.7"/>
<text x="127.32" y="302.1" text-anchor="middle">–400</text>
<text x="197.46" y="302.1" text-anchor="middle">–200</text>
<text x="272.9" y="302.1" text-anchor="middle">0</text>
<text x="345.34" y="302.1" text-anchor="middle">200</text>
<text x="417.58" y="302.1" text-anchor="middle">400</text>
<text x="80.8" y="253.9" text-anchor="end">0.0</text>
<text x="80.8" y="189.05" text-anchor="end">0.1</text>
<text x="80.8" y="123.55" text-anchor="end">0.2</text>
<text x="80.8" y="59.65" text-anchor="end">0.3</text>
<text x="275.6" y="338.5" text-anchor="middle"><tspan font-style="italic" dx="1.2">B</tspan><tspan dx="-0.8"> (mT)</tspan></text>
<text transform="translate(17.1 149.1) rotate(-90)" text-anchor="middle">MC (%)</text>
<path d="M619.02 277.5V268.5 M619.02 20.7V29.7 M691.46 277.5V268.5 M691.46 20.7V29.7 M763.9 277.5V268.5 M763.9 20.7V29.7 M836.34 277.5V268.5 M836.34 20.7V29.7 M908.78 277.5V268.5 M908.78 20.7V29.7 M655.24 277.5V272.8 M655.24 20.7V25.4 M727.68 277.5V272.8 M727.68 20.7V25.4 M800.12 277.5V272.8 M800.12 20.7V25.4 M872.56 277.5V272.8 M872.56 20.7V25.4 M582.8 245.8H591.8 M945 245.8H936 M582.8 181.44H591.8 M945 181.44H936 M582.8 117.08H591.8 M945 117.08H936 M582.8 52.72H591.8 M945 52.72H936 M582.8 213.62H587.5 M945 213.62H940.3 M582.8 149.26H587.5 M945 149.26H940.3 M582.8 84.9H587.5 M945 84.9H940.3" stroke="#000" stroke-width="1.5" fill="none"/>
<rect x="582.8" y="20.7" width="362.2" height="256.8" fill="none" stroke="#000" stroke-width="1.7"/>
<text x="617.82" y="302.1" text-anchor="middle">–4</text>
<text x="691.56" y="302.1" text-anchor="middle">–2</text>
<text x="763.9" y="302.1" text-anchor="middle">0</text>
<text x="833.34" y="302.1" text-anchor="middle">2</text>
<text x="909.98" y="302.1" text-anchor="middle">4</text>
<text x="574.1" y="252.05" text-anchor="end">0.00</text>
<text x="574.1" y="188.85" text-anchor="end">0.02</text>
<text x="574.1" y="124.05" text-anchor="end">0.04</text>
<text x="574.1" y="58.4" text-anchor="end">0.06</text>
<text x="766.2" y="338.5" text-anchor="middle"><tspan font-style="italic" dx="1.2">B</tspan><tspan dx="-0.8"> (mT)</tspan></text>
<text transform="translate(508.5 149.1) rotate(-90)" text-anchor="middle">MC (%)</text>
<path d="M127.22 623.7V614.7 M127.22 367.1V376.1 M199.66 623.7V614.7 M199.66 367.1V376.1 M272.1 623.7V614.7 M272.1 367.1V376.1 M344.54 623.7V614.7 M344.54 367.1V376.1 M416.98 623.7V614.7 M416.98 367.1V376.1 M163.44 623.7V619 M163.44 367.1V371.8 M235.88 623.7V619 M235.88 367.1V371.8 M308.32 623.7V619 M308.32 367.1V371.8 M380.76 623.7V619 M380.76 367.1V371.8 M91 598.45H100 M453.2 598.45H444.2 M91 547H100 M453.2 547H444.2 M91 495.55H100 M453.2 495.55H444.2 M91 444.1H100 M453.2 444.1H444.2 M91 392.65H100 M453.2 392.65H444.2 M91 572.73H95.7 M453.2 572.73H448.5 M91 521.27H95.7 M453.2 521.27H448.5 M91 469.82H95.7 M453.2 469.82H448.5 M91 418.38H95.7 M453.2 418.38H448.5" stroke="#000" stroke-width="1.5" fill="none"/>
<rect x="91" y="367.1" width="362.2" height="256.6" fill="none" stroke="#000" stroke-width="1.7"/>
<text x="127.72" y="649.3" text-anchor="middle">–400</text>
<text x="198.26" y="649.3" text-anchor="middle">–200</text>
<text x="272.6" y="649.3" text-anchor="middle">0</text>
<text x="345.14" y="649.3" text-anchor="middle">200</text>
<text x="417.08" y="649.3" text-anchor="middle">400</text>
<text x="80.8" y="605.8" text-anchor="end">–0.05</text>
<text x="80.8" y="553.85" text-anchor="end">0.00</text>
<text x="80.8" y="502.15" text-anchor="end">0.05</text>
<text x="80.8" y="452.85" text-anchor="end">0.10</text>
<text x="80.8" y="399.2" text-anchor="end">0.15</text>
<text x="276.4" y="683.7" text-anchor="middle"><tspan font-style="italic" dx="1.2">B</tspan><tspan dx="-0.8"> (mT)</tspan></text>
<text transform="translate(17.1 495.4) rotate(-90)" text-anchor="middle">MC (%)</text>
<path d="M619.02 623.7V614.7 M619.02 367.1V376.1 M691.46 623.7V614.7 M691.46 367.1V376.1 M763.9 623.7V614.7 M763.9 367.1V376.1 M836.34 623.7V614.7 M836.34 367.1V376.1 M908.78 623.7V614.7 M908.78 367.1V376.1 M655.24 623.7V619 M655.24 367.1V371.8 M727.68 623.7V619 M727.68 367.1V371.8 M800.12 623.7V619 M800.12 367.1V371.8 M872.56 623.7V619 M872.56 367.1V371.8 M582.8 603.08H591.8 M945 603.08H936 M582.8 560.11H591.8 M945 560.11H936 M582.8 517.14H591.8 M945 517.14H936 M582.8 474.17H591.8 M945 474.17H936 M582.8 431.2H591.8 M945 431.2H936 M582.8 388.23H591.8 M945 388.23H936 M582.8 581.6H587.5 M945 581.6H940.3 M582.8 538.62H587.5 M945 538.62H940.3 M582.8 495.65H587.5 M945 495.65H940.3 M582.8 452.69H587.5 M945 452.69H940.3 M582.8 409.71H587.5 M945 409.71H940.3" stroke="#000" stroke-width="1.5" fill="none"/>
<rect x="582.8" y="367.1" width="362.2" height="256.6" fill="none" stroke="#000" stroke-width="1.7"/>
<text x="616.22" y="649.3" text-anchor="middle">–4</text>
<text x="690.26" y="649.3" text-anchor="middle">–2</text>
<text x="762.2" y="649.3" text-anchor="middle">0</text>
<text x="832.34" y="649.3" text-anchor="middle">2</text>
<text x="908.78" y="649.3" text-anchor="middle">4</text>
<text x="574.1" y="609.33" text-anchor="end">–0.04</text>
<text x="574.1" y="567.26" text-anchor="end">–0.03</text>
<text x="574.1" y="524.29" text-anchor="end">–0.02</text>
<text x="574.1" y="481.72" text-anchor="end">–0.01</text>
<text x="574.1" y="438.35" text-anchor="end">0.00</text>
<text x="574.1" y="395.78" text-anchor="end">0.01</text>
<text x="766.2" y="683.7" text-anchor="middle"><tspan font-style="italic" dx="1.2">B</tspan><tspan dx="-0.8"> (mT)</tspan></text>
<text transform="translate(508.5 495.4) rotate(-90)" text-anchor="middle">MC (%)</text>
</svg>
</body></html>
